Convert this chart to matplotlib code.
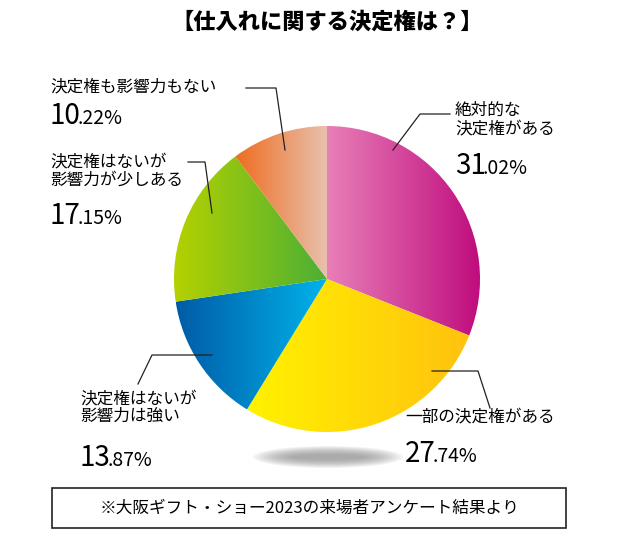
import matplotlib.pyplot as plt
import numpy as np
from matplotlib.patches import Ellipse, Rectangle
from matplotlib.colors import LinearSegmentedColormap

plt.rcParams['font.family'] = 'Noto Sans CJK JP'

labels = ['絶対的な\n決定権がある', '一部の決定権がある', '決定権はないが\n影響力は強い',
          '決定権はないが\n影響力が少しある', '決定権も影響力もない']
values = [31.02, 27.74, 13.87, 17.15, 10.22]
grad_colors = [('#e87fb8', '#bf0d7d'), ('#fff200', '#ffc20e'), ('#005ba6', '#00b3eb'),
               ('#b5d100', '#4caf35'), ('#ef6d1f', '#e8c0ae')]
# label text top-left, percent position, leader line points (pixel coords, y down)
label_pos = [(455, 102), (405, 408), (80, 390), (50, 153), (50, 78)]
pct_pos = [(455, 174), (405, 462), (80, 466), (50, 224), (50, 124)]
leaders = [[(393, 150), (420, 114), (450, 114)],
           [(432, 371), (478, 371), (490, 408)],
           [(212, 355), (152, 355), (138, 384)],
           [(212, 213), (205, 162), (188, 162)],
           [(285, 150), (276, 88), (246, 88)]]

W, H = 620, 550
fig = plt.figure(figsize=(6.2, 5.5), dpi=100)
ax = fig.add_axes([0, 0, 1, 1])

cx, cy, r = 327, 279, 153

# shadow
for i in range(12):
    ax.add_patch(Ellipse((328, 457), 150 - i * 7, 22 - i * 1.5, color='#888888',
                         alpha=0.09, lw=0, zorder=1))

# y axis is inverted: startangle -90 / counterclock shows clockwise from top
wedges, _ = ax.pie(values, center=(cx, cy), radius=r, startangle=-90,
                   counterclock=True, frame=True,
                   wedgeprops=dict(linewidth=0, alpha=0))
for w, (c1, c2) in zip(wedges, grad_colors):
    cmap = LinearSegmentedColormap.from_list('g', [c1, c2])
    bb = w.get_path().get_extents(w.get_patch_transform())
    im = ax.imshow(np.linspace(0, 1, 256)[None, :], cmap=cmap, aspect='auto',
                   extent=[bb.x0, bb.x1, bb.y1, bb.y0], zorder=2)
    im.set_clip_path(w)

ax.set_xlim(0, W)
ax.set_ylim(H, 0)
ax.set_aspect('equal')
ax.axis('off')

ax.text(327, 22, '【仕入れに関する決定権は？】', fontsize=16, fontweight='black',
        ha='center', va='center')

fig.canvas.draw()
rend = fig.canvas.get_renderer()
for lab, lp, pp, ld, v in zip(labels, label_pos, pct_pos, leaders, values):
    ax.text(lp[0], lp[1], lab, fontsize=12, va='top', ha='left', linespacing=1.1)
    xs, ys = zip(*ld)
    ax.plot(xs, ys, color='#222222', lw=0.9, zorder=3)
    big, small = f'{v:.2f}'.split('.')
    t = ax.text(pp[0], pp[1], big, fontsize=20, va='baseline', ha='left')
    bb = t.get_window_extent(rend).transformed(ax.transData.inverted())
    ax.text(bb.x1 - 3, pp[1], f'.{small}%', fontsize=14, va='baseline', ha='left')

ax.add_patch(Rectangle((52, 488), 514, 40, fill=False, ec='#222222', lw=1.2))
ax.text(309, 508, '※大阪ギフト・ショー2023の来場者アンケート結果より', fontsize=12,
        ha='center', va='center')

fig.savefig('out.png', dpi=100)
